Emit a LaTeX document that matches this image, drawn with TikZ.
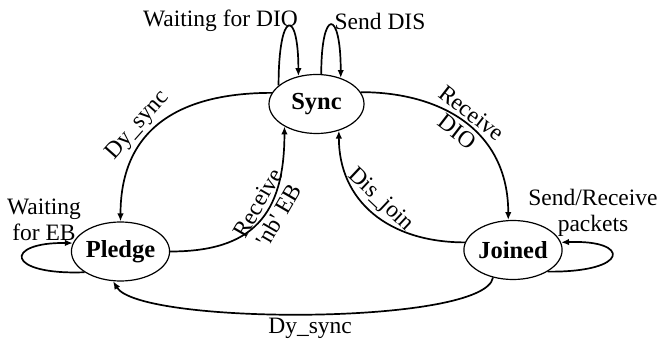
\documentclass[tikz,border=0pt]{standalone}
\usepackage{fontspec}
\setmainfont{Liberation Serif}
\usetikzlibrary{shapes.geometric,arrows.meta}
\begin{document}
\begin{tikzpicture}[x=1pt,y=-1pt,
  state/.style={ellipse,draw,line width=1.2pt,minimum width=95pt,minimum height=59pt,inner sep=0pt,font=\fontsize{24.5}{28}\selectfont\bfseries},
  edge/.style={line width=1.7pt,-{Latex[length=8pt,width=6.5pt]}},
  lbl/.style={font=\fontsize{23.5}{26.5}\selectfont,inner sep=3pt},
]
\useasboundingbox (0,0) rectangle (659,339);
\node[state] (sync) at (316.5,104) {Sync};
\node[state] (pledge) at (120.5,251.5) {Pledge};
\node[state] (joined) at (513,250) {Joined};

\node[lbl,anchor=base] (wdio) at (220.5,27) {Waiting for DIO};
\node[lbl,anchor=base] (sdis) at (380,30) {Send DIS};
\node[lbl,align=center] (web) at (44,220) {Waiting\\for EB};
\node[lbl,align=center] (srp) at (593,213) {Send/Receive\\packets};

\draw[edge] (sync.166) .. controls +(-88,0) and +(0,-96) .. (pledge.north)
  node[lbl,sloped,above,pos=0.6] {Dy\_sync};
\draw[edge] (pledge.east) .. controls +(82,0) and +(0,89) .. (sync.215)
  node[lbl,sloped,above,pos=0.6] {Receive}
  node[lbl,sloped,below,pos=0.6] {\textquotesingle nb\textquotesingle{} EB};
\draw[edge] (sync.15) .. controls +(80,0) and +(0,-90) .. (joined.99)
  node[lbl,sloped,above,pos=0.5] {Receive}
  node[lbl,sloped,below,pos=0.5] {DIO};
\draw[edge] (joined.171) .. controls +(-77,0) and +(0,70) .. (sync.310)
  node[lbl,sloped,above,pos=0.52] {Dis\_join};
\draw[edge] (joined.234) .. controls +(-8,48) and +(27,44) .. (pledge.256)
  node[lbl,below,pos=0.5] {Dy\_sync};

\draw[edge] (sync.154) .. controls +(0,-77) and +(0,-68) .. (sync.123);
\draw[edge] (sync.81) .. controls +(0,-66) and +(0,-70) .. (sync.47);
\draw[edge] (pledge.210) .. controls +(-80,3) and +(-69,-1) .. (pledge.170);
\draw[edge] (joined.328) .. controls +(83,1) and +(70,-3) .. (joined.9);
\end{tikzpicture}
\end{document}
